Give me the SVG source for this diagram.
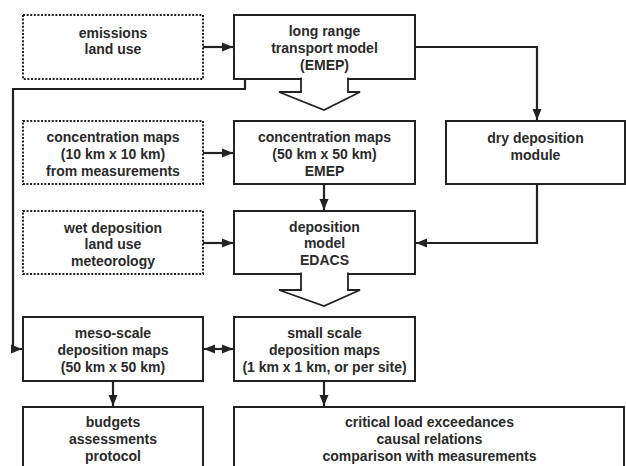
<svg xmlns="http://www.w3.org/2000/svg" width="626" height="466" viewBox="0 0 626 466">
<style>
  .box { fill: #fff; stroke: #222; stroke-width: 2; }
  .dot { fill: #fff; stroke: #222; stroke-width: 2; stroke-dasharray: 2 1.6; }
  .blk { fill: #fff; stroke: #222; stroke-width: 1.8; stroke-linejoin: miter; }
  .con { fill: none; stroke: #222; stroke-width: 2.2; }
  text { font-family: "Liberation Sans", Arial, sans-serif; font-weight: bold; font-size: 14px; fill: #2a2a2a; text-anchor: middle; }
</style>
<defs>
  <marker id="ah" markerUnits="userSpaceOnUse" markerWidth="12" markerHeight="12" viewBox="0 0 12 12" refX="11" refY="6" orient="auto-start-reverse">
    <path d="M0,1.5 L11,6 L0,10.5 Z" fill="#222"/>
  </marker>
</defs>
<rect width="626" height="466" fill="#fff"/>

<g id="emissions">
  <rect class="dot" x="23" y="15" width="180" height="64"/>
  <text x="113" y="37.5">emissions</text>
  <text x="113" y="54">land use</text>
</g>
<g id="lrtm">
  <rect class="box" x="234" y="15" width="181" height="64"/>
  <text x="324.5" y="36">long range</text>
  <text x="324.5" y="53">transport model</text>
  <text x="324.5" y="70">(EMEP)</text>
</g>
<g id="lrtm-blockarrow">
  <path class="blk" d="M301,77.5 L301,92 L279,92 L324,110 L360,92 L348,92 L348,77.5"/>
</g>
<g id="conc-meas">
  <rect class="dot" x="23" y="121" width="180" height="63"/>
  <text x="113" y="142">concentration maps</text>
  <text x="113" y="159">(10 km x 10 km)</text>
  <text x="113" y="176">from measurements</text>
</g>
<g id="conc-emep">
  <rect class="box" x="234" y="121" width="181" height="63"/>
  <text x="324.5" y="142">concentration maps</text>
  <text x="324.5" y="159">(50 km x 50 km)</text>
  <text x="324.5" y="176">EMEP</text>
</g>
<g id="dry">
  <rect class="box" x="446" y="121" width="179" height="63"/>
  <text x="535.5" y="143">dry deposition</text>
  <text x="535.5" y="160">module</text>
</g>
<g id="wet">
  <rect class="dot" x="23" y="211" width="180" height="63"/>
  <text x="113" y="232.5">wet deposition</text>
  <text x="113" y="249">land use</text>
  <text x="113" y="265.5">meteorology</text>
</g>
<g id="edacs">
  <rect class="box" x="234" y="211" width="181" height="63"/>
  <text x="324.5" y="231.5">deposition</text>
  <text x="324.5" y="248">model</text>
  <text x="324.5" y="265">EDACS</text>
</g>
<g id="edacs-blockarrow">
  <path class="blk" d="M301,272.5 L301,290 L279,290 L324,306 L360,290 L348,290 L348,272.5"/>
</g>
<g id="meso">
  <rect class="box" x="23" y="317" width="180" height="64"/>
  <text x="113" y="338">meso-scale</text>
  <text x="113" y="355">deposition maps</text>
  <text x="113" y="372">(50 km x 50 km)</text>
</g>
<g id="small">
  <rect class="box" x="234" y="317" width="181" height="64"/>
  <text x="324.5" y="338">small scale</text>
  <text x="324.5" y="355">deposition maps</text>
  <text x="324.5" y="372">(1 km x 1 km, or per site)</text>
</g>
<g id="budgets">
  <rect class="box" x="23" y="407" width="180" height="80"/>
  <text x="113" y="427">budgets</text>
  <text x="113" y="444">assessments</text>
  <text x="113" y="461">protocol</text>
</g>
<g id="critical">
  <rect class="box" x="234" y="407" width="390" height="80"/>
  <text x="429.5" y="427">critical load exceedances</text>
  <text x="429.5" y="444">causal relations</text>
  <text x="429.5" y="461">comparison with measurements</text>
</g>

<g id="connectors">
  <path class="con" d="M203,47 L233,47" marker-end="url(#ah)"/>
  <path class="con" d="M203,153 L233,153" marker-end="url(#ah)"/>
  <path class="con" d="M203,243 L233,243" marker-end="url(#ah)"/>
  <path class="con" d="M324,184 L324,210" marker-end="url(#ah)"/>
  <path class="con" d="M415,47 L537,47 L537,120" marker-end="url(#ah)"/>
  <path class="con" d="M537,184 L537,243 L416,243" marker-end="url(#ah)"/>
  <path class="con" d="M245,79 L245,89 L13,89 L13,349 L22,349" marker-end="url(#ah)"/>
  <path class="con" d="M204,349 L233,349" marker-start="url(#ah)" marker-end="url(#ah)"/>
  <path class="con" d="M113,381 L113,406" marker-end="url(#ah)"/>
  <path class="con" d="M324,381 L324,406" marker-end="url(#ah)"/>
</g>
</svg>
